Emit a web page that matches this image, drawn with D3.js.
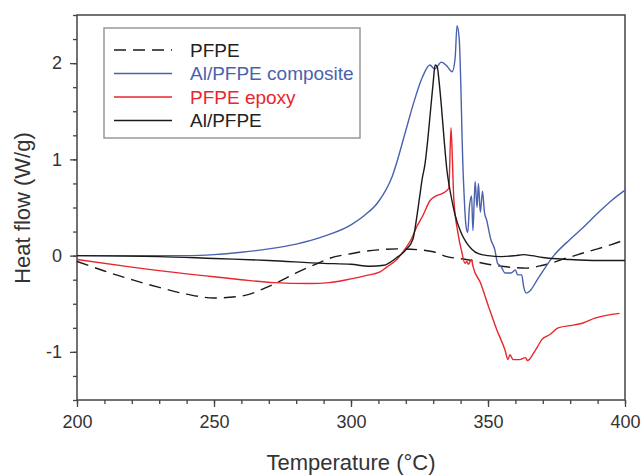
<!DOCTYPE html>
<html>
<head>
<meta charset="utf-8">
<script src="https://cdn.jsdelivr.net/npm/d3@7"></script>
<style>
  body { margin: 0; background: #fff; }
  text { font-family: "Liberation Sans", Arial, sans-serif; }
</style>
</head>
<body>
<div id="chart"></div>
<script>
const width = 642;
const height = 475;
const margin = {top: 15, right: 17, bottom: 75, left: 77};

// PFPE (dashed)
const pfpeT = [200, 210, 220, 230, 240, 250, 260, 270, 273, 280, 288.7, 292, 300, 304, 310, 317, 325, 330, 335, 342, 350, 355, 360, 364, 370, 375, 378, 380, 385, 390, 395, 400];
const pfpeV = [-0.06, -0.16, -0.25, -0.33, -0.4, -0.44, -0.42, -0.32, -0.28, -0.18, -0.07, -0.03, 0.02, 0.04, 0.06, 0.07, 0.06, 0.04, -0.01, -0.04, -0.09, -0.11, -0.125, -0.13, -0.1, -0.06, -0.03, -0.015, 0.03, 0.07, 0.115, 0.165];

// Al/PFPE composite (blue)
const compT = [200, 220, 240, 250, 260, 270, 280, 290, 300, 305, 310, 315, 320, 323, 326, 328.8, 330.5, 333, 335, 336.9, 338, 338.7, 339.5, 340.9, 342, 342.6, 343.2, 344, 344.5, 345.3, 346, 346.5, 347.2, 348, 348.7, 349.5, 351, 352.5, 353.5, 354.7, 356.2, 358.4, 360, 360.8, 362.3, 363, 364, 365.2, 368, 374, 380, 385, 390, 395, 400];
const compV = [0, 0, 0, 0.01, 0.035, 0.07, 0.12, 0.2, 0.32, 0.42, 0.56, 0.82, 1.3, 1.6, 1.85, 1.98, 1.94, 2.01, 1.97, 1.91, 2.05, 2.39, 2.25, 0.89, 0.3, 0.24, 0.5, 0.62, 0.26, 0.77, 0.5, 0.75, 0.45, 0.67, 0.45, 0.37, 0.17, 0.06, -0.08, -0.11, -0.18, -0.18, -0.15, -0.2, -0.2, -0.32, -0.39, -0.37, -0.25, 0, 0.17, 0.3, 0.44, 0.57, 0.68];

// PFPE epoxy (red)
const epoxyT = [200, 220, 240, 250, 260, 272, 285, 292, 298.5, 305, 310.6, 313, 316.7, 320, 322, 324, 326.3, 328.8, 331, 333.6, 335.7, 336.5, 337, 337.5, 339, 340.5, 341.6, 342.3, 342.8, 344, 344.5, 347.2, 350.2, 353.2, 356.2, 357.3, 358, 359.2, 361.5, 363.7, 364.4, 366.7, 368, 369.7, 372.6, 375.6, 381.6, 384.7, 389, 398];
const epoxyV = [-0.04, -0.12, -0.19, -0.22, -0.25, -0.28, -0.29, -0.28, -0.25, -0.21, -0.17, -0.12, -0.04, 0.08, 0.17, 0.3, 0.42, 0.57, 0.62, 0.65, 0.7, 1.33, 1.0, 0.6, 0.24, 0.03, -0.08, -0.06, -0.09, -0.04, -0.11, -0.28, -0.53, -0.77, -0.98, -1.08, -1.03, -1.08, -1.08, -1.06, -1.09, -1.01, -0.95, -0.87, -0.82, -0.75, -0.72, -0.7, -0.65, -0.6];

// Al/PFPE (black)
const alT = [200, 230, 250, 270, 290, 300, 307, 312, 316.7, 319, 320, 322.6, 324, 325, 326, 327, 328, 329, 330, 330.7, 331.5, 332, 333, 334, 335, 336, 337, 338, 340, 342, 344, 346.5, 350, 355, 360, 363, 366, 370, 380, 390, 400];
const alV = [0, -0.01, -0.03, -0.05, -0.08, -0.09, -0.11, -0.1, -0.02, 0.03, 0.06, 0.17, 0.4, 0.6, 0.8, 0.95, 1.2, 1.5, 1.8, 1.98, 1.96, 1.85, 1.55, 1.2, 0.89, 0.7, 0.55, 0.42, 0.25, 0.14, 0.07, 0.02, 0, -0.01, 0, 0.01, 0, -0.02, -0.04, -0.05, -0.05];

const seriesNames = ["PFPE", "Al/PFPE composite", "PFPE epoxy", "Al/PFPE"];
const seriesColors = ["#1a1a1a", "#4a62ad", "#e8262c", "#1a1a1a"];
const seriesDash = ["12,7", null, null, null];

const xTicks = [200, 250, 300, 350, 400];
const yTicks = [-1, 0, 1, 2];

const series = [
  {name: seriesNames[0], t: pfpeT, v: pfpeV},
  {name: seriesNames[1], t: compT, v: compV},
  {name: seriesNames[2], t: epoxyT, v: epoxyV},
  {name: seriesNames[3], t: alT, v: alV}
];

const svg = d3.select("#chart")
    .append("svg")
    .attr("width", width)
    .attr("height", height);

const x = d3.scaleLinear().domain([200, 400]).range([margin.left, width - margin.right]);
const y = d3.scaleLinear().domain([-1.5, 2.5]).range([height - margin.bottom, margin.top]);

const axisColor = "#444";

// frame
svg.append("rect")
    .attr("x", x(200))
    .attr("y", y(2.5))
    .attr("width", x(400) - x(200))
    .attr("height", y(-1.5) - y(2.5))
    .attr("fill", "none")
    .attr("stroke", axisColor)
    .attr("stroke-width", 1.5);

// minor + major ticks
const xAxisMinor = d3.axisBottom(x).tickValues(d3.range(200, 401, 10)).tickSize(4).tickFormat("");
const yAxisMinor = d3.axisLeft(y).tickValues(d3.range(-1.5, 2.51, 0.25)).tickSize(4).tickFormat("");
const xAxis = d3.axisBottom(x).tickValues(xTicks).tickSize(7).tickPadding(8).tickFormat(d => String(d));
const yAxis = d3.axisLeft(y).tickValues(yTicks).tickSize(7).tickPadding(8).tickFormat(d => String(d));

function styleAxis(g) {
  g.select(".domain").remove();
  g.selectAll("line").attr("stroke", axisColor).attr("stroke-width", 1.3);
  g.selectAll("text").attr("fill", "#333").style("font-size", "18px");
}

svg.append("g").attr("transform", `translate(0,${y(-1.5)})`).call(xAxisMinor).call(styleAxis);
svg.append("g").attr("transform", `translate(${x(200)},0)`).call(yAxisMinor).call(styleAxis);
svg.append("g").attr("transform", `translate(0,${y(-1.5)})`).call(xAxis).call(styleAxis);
svg.append("g").attr("transform", `translate(${x(200)},0)`).call(yAxis).call(styleAxis);

// axis titles
svg.append("text")
    .attr("x", (x(200) + x(400)) / 2)
    .attr("y", 470)
    .attr("text-anchor", "middle")
    .attr("fill", "#333")
    .style("font-size", "22px")
    .text("Temperature (°C)");

svg.append("text")
    .attr("transform", `translate(30,${208}) rotate(-90)`)
    .attr("text-anchor", "middle")
    .attr("fill", "#333")
    .style("font-size", "22px")
    .text("Heat flow (W/g)");

// lines
const line = d3.line()
    .x(d => x(d[0]))
    .y(d => y(d[1]))
    .curve(d3.curveMonotoneX);

series.forEach((s, i) => {
  const pts = s.t.map((t, j) => [t, s.v[j]]);
  svg.append("path")
      .datum(pts)
      .attr("d", line)
      .attr("fill", "none")
      .attr("stroke", seriesColors[i])
      .attr("stroke-width", 1.4)
      .attr("stroke-dasharray", seriesDash[i]);
});

// legend
const legend = svg.append("g");
legend.append("rect")
    .attr("x", 104)
    .attr("y", 28)
    .attr("width", 256)
    .attr("height", 110)
    .attr("fill", "#fff")
    .attr("stroke", "#999")
    .attr("stroke-width", 1.5);

seriesNames.forEach((name, i) => {
  const ly = 50 + i * 23.5;
  legend.append("line")
      .attr("x1", 114).attr("x2", 172)
      .attr("y1", ly).attr("y2", ly)
      .attr("stroke", seriesColors[i])
      .attr("stroke-width", 1.4)
      .attr("stroke-dasharray", seriesDash[i]);
  legend.append("text")
      .attr("x", 190)
      .attr("y", ly)
      .attr("dy", "0.35em")
      .attr("fill", i === 0 || i === 3 ? "#222" : seriesColors[i])
      .style("font-size", "19px")
      .text(name);
});
</script>
</body>
</html>
